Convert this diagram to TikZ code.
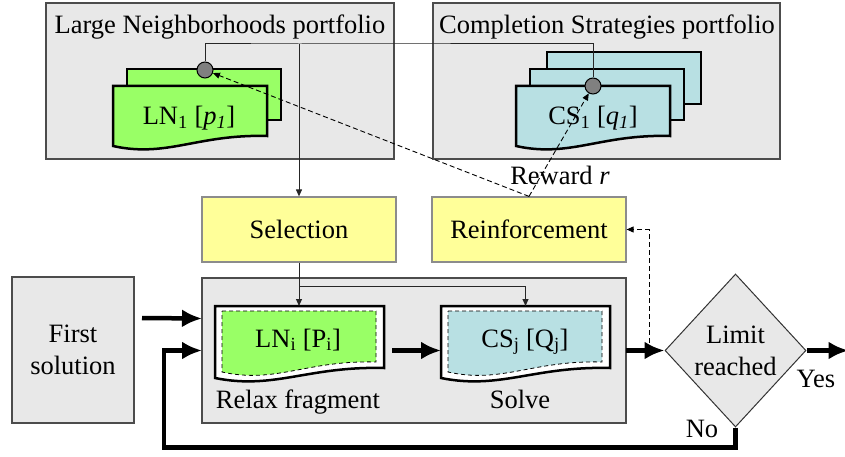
\documentclass[tikz,border=0pt]{standalone}
\usepackage{fontspec}
\setmainfont{Liberation Serif}
\usetikzlibrary{arrows.meta,shapes.geometric,calc}
\definecolor{lngreen}{HTML}{99FF66}
\definecolor{cscyan}{HTML}{B8E0E3}
\definecolor{boxyellow}{HTML}{FFFF99}
\definecolor{panelgray}{HTML}{E8E8E8}
% document shape with a wavy bottom, drawn over an empty node
\newcommand{\wavedoc}[2]{%
  \path[#2] (#1.north west) -- (#1.north east) -- ([yshift=10pt]#1.south east)
    .. controls ($(#1.south east)!0.45!(#1.south west)+(0pt,12pt)$)
    and ($(#1.south west)!0.35!(#1.south east)+(0pt,-12pt)$) .. (#1.south west) -- cycle;}
\begin{document}
\begin{tikzpicture}[x=1pt,y=-1pt,font=\fontsize{26.5}{32}\selectfont,
    panel/.style={draw=black!70,fill=panelgray,line width=1.3pt,inner sep=0pt,outer sep=0pt},
    yellowbox/.style={draw=black!45,fill=boxyellow,line width=1.2pt,inner sep=0pt,
      minimum width=194pt,minimum height=65pt},
    docbox/.style={inner sep=0pt,outer sep=0pt},
    docline/.style={draw=black,line width=2.5pt},
    innerline/.style={draw=black,line width=0.8pt,dash pattern=on 4pt off 3pt},
    knob/.style={circle,draw=black,fill=black!50,line width=1pt,minimum size=16pt,inner sep=0pt},
    thinline/.style={line width=1pt,black!85},
    thinarrow/.style={thinline,-{Triangle[length=7pt,width=6pt]}},
    dasharrow/.style={line width=0.9pt,dash pattern=on 5pt off 3pt,-{Triangle[length=7pt,width=6pt]}},
    bigarrow/.style={line width=4.5pt,-{Latex[length=20pt,width=18pt]}}]
  \useasboundingbox (0,0) rectangle (845,457);
  % the two portfolios
  \node[panel,minimum width=348pt,minimum height=156pt] (lnport) at (220,81) {};
  \node[panel,minimum width=347pt,minimum height=156pt] (csport) at (606.5,81) {};
  \node[anchor=base] (lntitle) at (220,34) {Large Neighborhoods portfolio};
  \node[anchor=base] (cstitle) at (607,34) {Completion Strategies portfolio};
  \node[docbox,docline,fill=lngreen,minimum width=154pt,minimum height=51pt] (ln2) at (204,94.5) {};
  \node[docbox,minimum width=154pt,minimum height=60pt] (ln1) at (190,116) {};
  \wavedoc{ln1}{docline,fill=lngreen}
  \node[anchor=base] (ln1txt) at (189,125) {LN\textsubscript{1} [\textit{p}\textsubscript{\textit{1}}]};
  \node[docbox,docline,fill=cscyan,minimum width=154pt,minimum height=52pt] (cs3) at (624,78) {};
  \node[docbox,docline,fill=cscyan,minimum width=154pt,minimum height=51pt] (cs2) at (607,94.5) {};
  \node[docbox,minimum width=154pt,minimum height=60pt] (cs1) at (593,116) {};
  \wavedoc{cs1}{docline,fill=cscyan}
  \node[anchor=base] (cs1txt) at (593,125) {CS\textsubscript{1} [\textit{q}\textsubscript{\textit{1}}]};
  \node[knob] (lnci) at (205,70) {};
  \node[knob] (csci) at (593,86) {};
  % selection and reinforcement
  \node[yellowbox] (sel) at (299,229.5) {Selection};
  \node[yellowbox] (reinf) at (529,229.5) {Reinforcement};
  \coordinate (bus) at (299,44);
  \draw[thinline] (lnci.north) |- (bus) -| (csci.north);
  \draw[thinarrow] (bus) -- (sel.north);
  \draw[dasharrow] (reinf.north) -- (lnci);
  \draw[dasharrow] (reinf.north) -- (csci);
  \node[anchor=base] (reward) at (560,185) {Reward \textit{r}};
  % search loop
  \node[panel,minimum width=122pt,minimum height=146pt,align=center] (first) at (73,350) {First\\solution};
  \node[panel,minimum width=424pt,minimum height=145pt] (mainbox) at (414,350.5) {};
  \node[docbox,minimum width=169pt,minimum height=72pt] (lni) at (299.5,342) {};
  \wavedoc{lni}{docline,fill=white}
  \node[docbox,minimum width=154pt,minimum height=61pt] (lnin) at (299,341.5) {};
  \wavedoc{lnin}{innerline,fill=lngreen}
  \node[anchor=base] (lnitxt) at (298,347) {LN\textsubscript{i} [P\textsubscript{i}]};
  \node[anchor=base] (relax) at (298,408) {Relax fragment};
  \node[docbox,minimum width=169pt,minimum height=72pt] (csj) at (525.5,342) {};
  \wavedoc{csj}{docline,fill=white}
  \node[docbox,minimum width=154pt,minimum height=61pt] (csjin) at (525,341.5) {};
  \wavedoc{csjin}{innerline,fill=cscyan}
  \node[anchor=base] (csjtxt) at (525,347) {CS\textsubscript{j} [Q\textsubscript{j}]};
  \node[anchor=base] (solve) at (520,408) {Solve};
  \node[diamond,draw=black!80,fill=panelgray,line width=1pt,inner sep=0pt,
    minimum width=141pt,minimum height=153pt,align=center] (limit) at (735.5,350.5) {Limit\\reached};
  \draw[thinarrow] (sel.south) -- (sel.south |- lni.north);
  \coordinate (fork) at ($(sel.south)+(0,24)$);
  \draw[thinarrow] (fork) -| (csj.north);
  \draw[bigarrow] ($(first.east)+(8,-32)$) -- ($(mainbox.west)+(0,-32)$);
  \draw[bigarrow] (limit.south) -- ++(0,20) -| ($(mainbox.west)+(-38,0)$) -- (mainbox.west);
  \draw[bigarrow] ($(lni.east |- mainbox.east)+(8,0)$) -- (csj.west |- mainbox.east);
  \draw[bigarrow] (mainbox.east) -- (limit.west);
  \draw[bigarrow] (limit.east) -- ++(42,0);
  \draw[dasharrow] ($(mainbox.east)+(23,0)$) |- (reinf.east);
  \node[anchor=base] (yes) at (816,387) {Yes};
  \node[anchor=base] (no) at (702,437) {No};
\end{tikzpicture}
\end{document}
